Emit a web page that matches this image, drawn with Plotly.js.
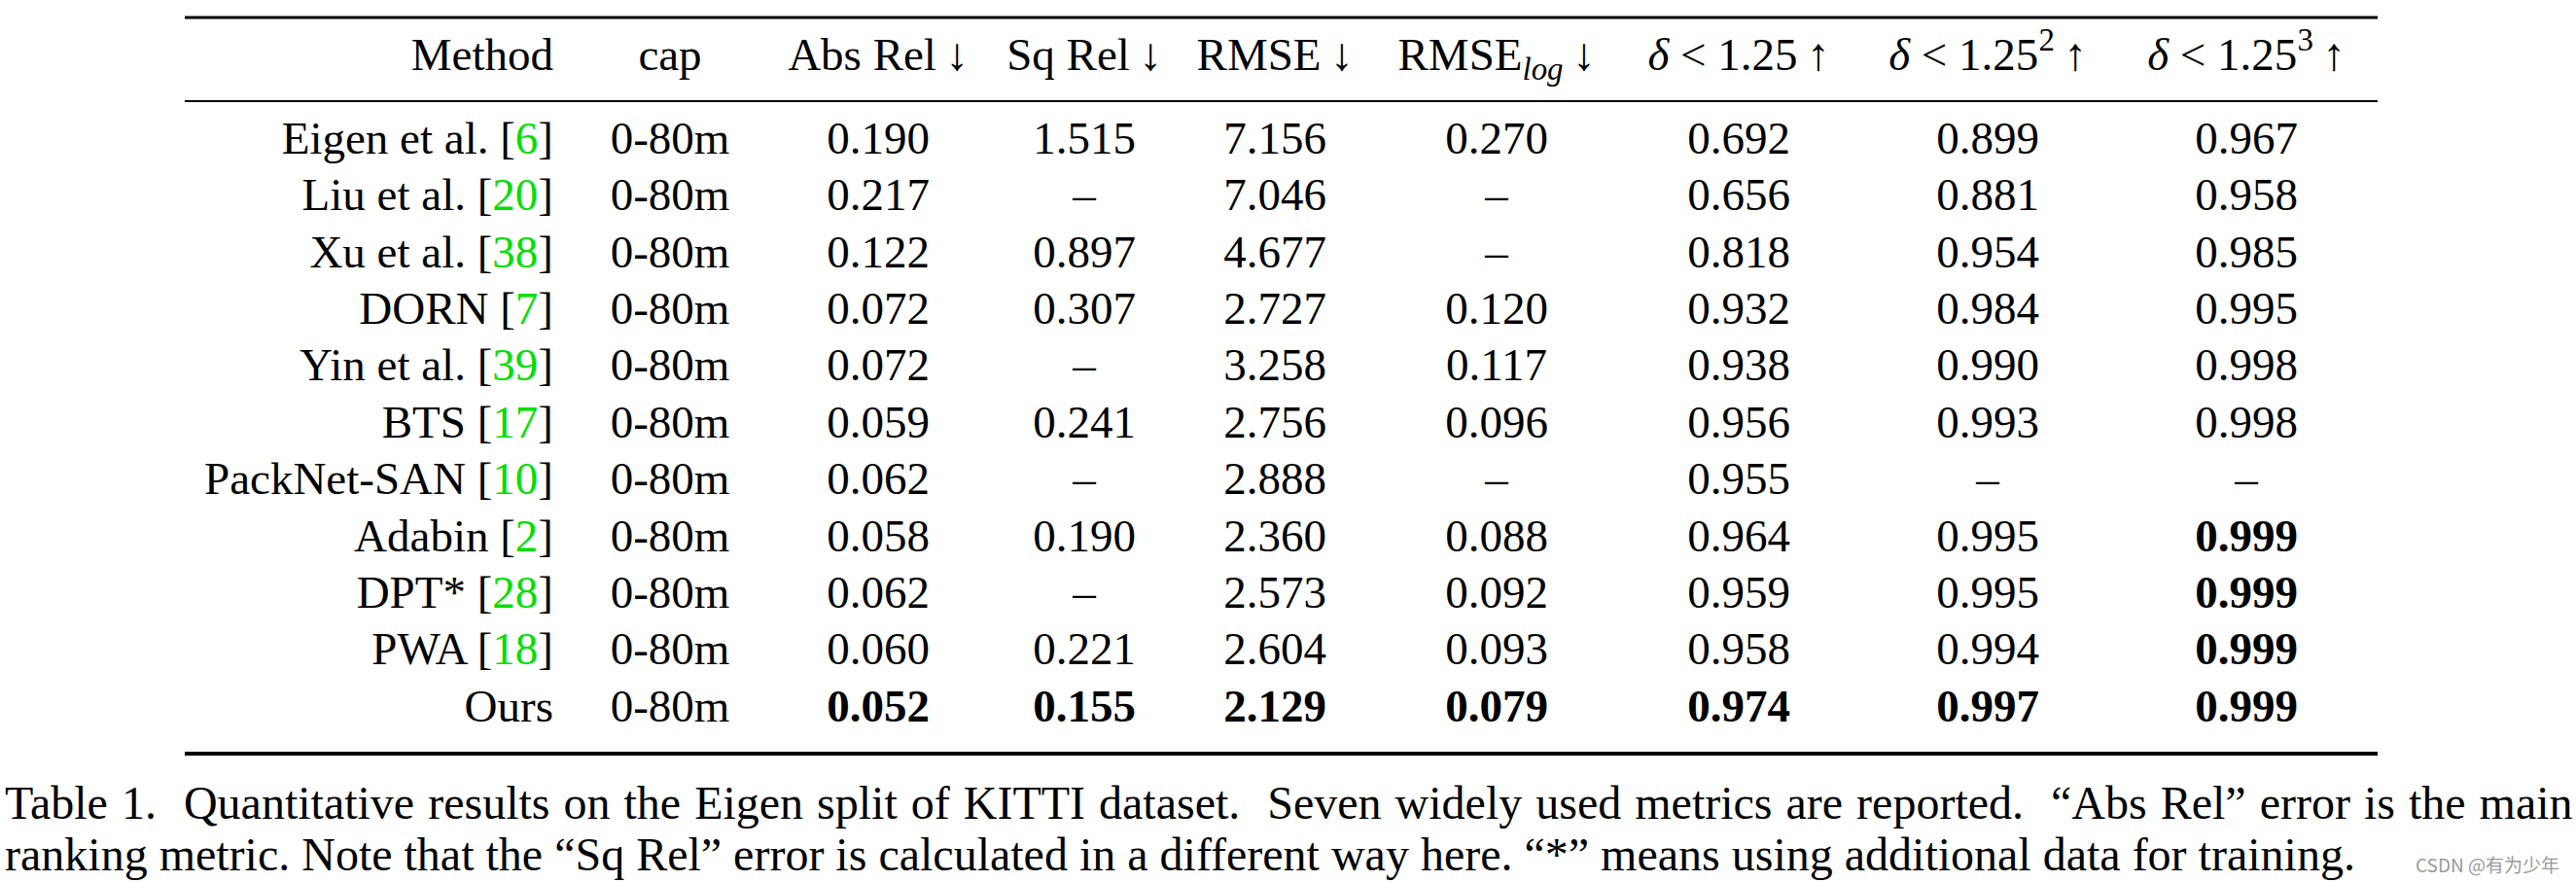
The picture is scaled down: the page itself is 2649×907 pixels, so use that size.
<!DOCTYPE html>
<html>
<head>
<meta charset="utf-8">
<script src="https://cdn.plot.ly/plotly-3.0.1.min.js"></script>
<style>
html,body{margin:0;padding:0;background:#fff;}
#chart{width:2649px;height:907px;}
</style>
</head>
<body>
<div id="chart"></div>
<script>
// ---------------- data ----------------
var methods = ['Eigen et al.', 'Liu et al.', 'Xu et al.', 'DORN', 'Yin et al.', 'BTS', 'PackNet-SAN', 'Adabin', 'DPT*', 'PWA', 'Ours'];
var refs    = ['6', '20', '38', '7', '39', '17', '10', '2', '28', '18', ''];
var caps    = ['0-80m','0-80m','0-80m','0-80m','0-80m','0-80m','0-80m','0-80m','0-80m','0-80m','0-80m'];
var absRel  = [0.190, 0.217, 0.122, 0.072, 0.072, 0.059, 0.062, 0.058, 0.062, 0.060, 0.052];
var sqRel   = [1.515, null, 0.897, 0.307, null, 0.241, null, 0.190, null, 0.221, 0.155];
var rmse    = [7.156, 7.046, 4.677, 2.727, 3.258, 2.756, 2.888, 2.360, 2.573, 2.604, 2.129];
var rmseLog = [0.270, null, null, 0.120, 0.117, 0.096, null, 0.088, 0.092, 0.093, 0.079];
var d1      = [0.692, 0.656, 0.818, 0.932, 0.938, 0.956, 0.955, 0.964, 0.959, 0.958, 0.974];
var d2      = [0.899, 0.881, 0.954, 0.984, 0.990, 0.993, null, 0.995, 0.995, 0.994, 0.997];
var d3      = [0.967, 0.958, 0.985, 0.995, 0.998, 0.998, null, 0.999, 0.999, 0.999, 0.999];

var headers = ['Method', 'cap', 'Abs Rel\u2009\u2193', 'Sq Rel\u2009\u2193', 'RMSE\u2009\u2193',
  'RMSE<sub><i>log</i></sub>\u2009\u2193', '<i>δ</i> &lt; 1.25\u2009\u2191',
  '<i>δ</i> &lt; 1.25<sup>2</sup>\u2009\u2191', '<i>δ</i> &lt; 1.25<sup>3</sup>\u2009\u2191'];

var captionLine1 = 'Table 1.  Quantitative results on the Eigen split of KITTI dataset.  Seven widely used metrics are reported.  \u201CAbs Rel\u201D error is the main';
var captionLine2 = 'ranking metric. Note that the \u201CSq Rel\u201D error is calculated in a different way here. \u201C*\u201D means using additional data for training.';
var watermark = 'CSDN @有为少年';

// ---------------- layout constants ----------------
var FONT = '"Liberation Serif", "Times New Roman", Times, serif';
var FS = 47;
var CAP_FS = 48;
var colX = {method: 569, cap: 689, absRel: 903, sqRel: 1115, rmse: 1311, rmseLog: 1539, d1: 1788, d2: 2044, d3: 2310};
var headerY = -1.473;
var ruleLeft = 190, ruleRight = 2445;
var rowIdx = methods.map(function(_, i){ return i; });

function fmtCol(vals, lowerBetter) {
  var nums = vals.filter(function(v){ return v !== null; });
  var best = lowerBetter ? Math.min.apply(null, nums) : Math.max.apply(null, nums);
  return vals.map(function(v){
    if (v === null) return '\u2013';
    var s = v.toFixed(3);
    return v === best ? '<b>' + s + '</b>' : s;
  });
}

var methodText = methods.map(function(m, i){
  return refs[i] ? m + ' [<span style="color:#00e000">' + refs[i] + '</span>]' : m;
});

var columns = [
  {key: 'cap', text: caps},
  {key: 'absRel', text: fmtCol(absRel, true)},
  {key: 'sqRel', text: fmtCol(sqRel, true)},
  {key: 'rmse', text: fmtCol(rmse, true)},
  {key: 'rmseLog', text: fmtCol(rmseLog, true)},
  {key: 'd1', text: fmtCol(d1, false)},
  {key: 'd2', text: fmtCol(d2, false)},
  {key: 'd3', text: fmtCol(d3, false)}
];

var traces = [];
traces.push({
  type: 'scatter', mode: 'text',
  x: [colX.method].concat(rowIdx.map(function(){ return colX.method; })),
  y: [headerY].concat(rowIdx),
  text: [headers[0]].concat(methodText),
  textposition: 'middle left',
  textfont: {family: FONT, size: FS, color: '#000'},
  hoverinfo: 'skip', showlegend: false
});
columns.forEach(function(c, ci){
  traces.push({
    type: 'scatter', mode: 'text',
    x: [colX[c.key]].concat(rowIdx.map(function(){ return colX[c.key]; })),
    y: [headerY].concat(rowIdx),
    text: [headers[ci + 1]].concat(c.text),
    textposition: 'middle center',
    textfont: {family: FONT, size: FS, color: '#000'},
    hoverinfo: 'skip', showlegend: false
  });
});

var shapes = [
  {type: 'line', xref: 'x', yref: 'y', x0: ruleLeft, x1: ruleRight, y0: -2.192, y1: -2.192, line: {color: '#000', width: 3}},
  {type: 'line', xref: 'x', yref: 'y', x0: ruleLeft, x1: ruleRight, y0: -0.719, y1: -0.719, line: {color: '#000', width: 2}},
  {type: 'line', xref: 'x', yref: 'y', x0: ruleLeft, x1: ruleRight, y0: 10.771, y1: 10.771, line: {color: '#000', width: 4}}
];

var annotations = [
  {xref: 'x', yref: 'y', x: 3, y: 11.64, xanchor: 'left', yanchor: 'middle', showarrow: false,
   text: '<span style="word-spacing:2px">' + captionLine1 + '</span>', font: {family: FONT, size: CAP_FS, color: '#000'}},
  {xref: 'x', yref: 'y', x: 3, y: 12.55, xanchor: 'left', yanchor: 'middle', showarrow: false,
   text: captionLine2, font: {family: FONT, size: CAP_FS, color: '#000'}},
  {xref: 'x', yref: 'y', x: 2634, y: 12.72, xanchor: 'right', yanchor: 'middle', showarrow: false,
   text: watermark, font: {family: '"Noto Sans CJK SC", "Noto Sans", sans-serif', size: 19, color: '#9a9a9a'}}
];

var layout = {
  width: 2649, height: 907,
  margin: {l: 0, r: 0, t: 0, b: 0, pad: 0},
  paper_bgcolor: '#fff', plot_bgcolor: '#fff',
  xaxis: {range: [0, 2649], visible: false, fixedrange: true},
  yaxis: {range: [-2.5 + 907 / 58.4, -2.5], visible: false, fixedrange: true},
  shapes: shapes,
  annotations: annotations,
  showlegend: false
};

Plotly.newPlot('chart', traces, layout, {displayModeBar: false, staticPlot: true});
</script>
</body>
</html>
